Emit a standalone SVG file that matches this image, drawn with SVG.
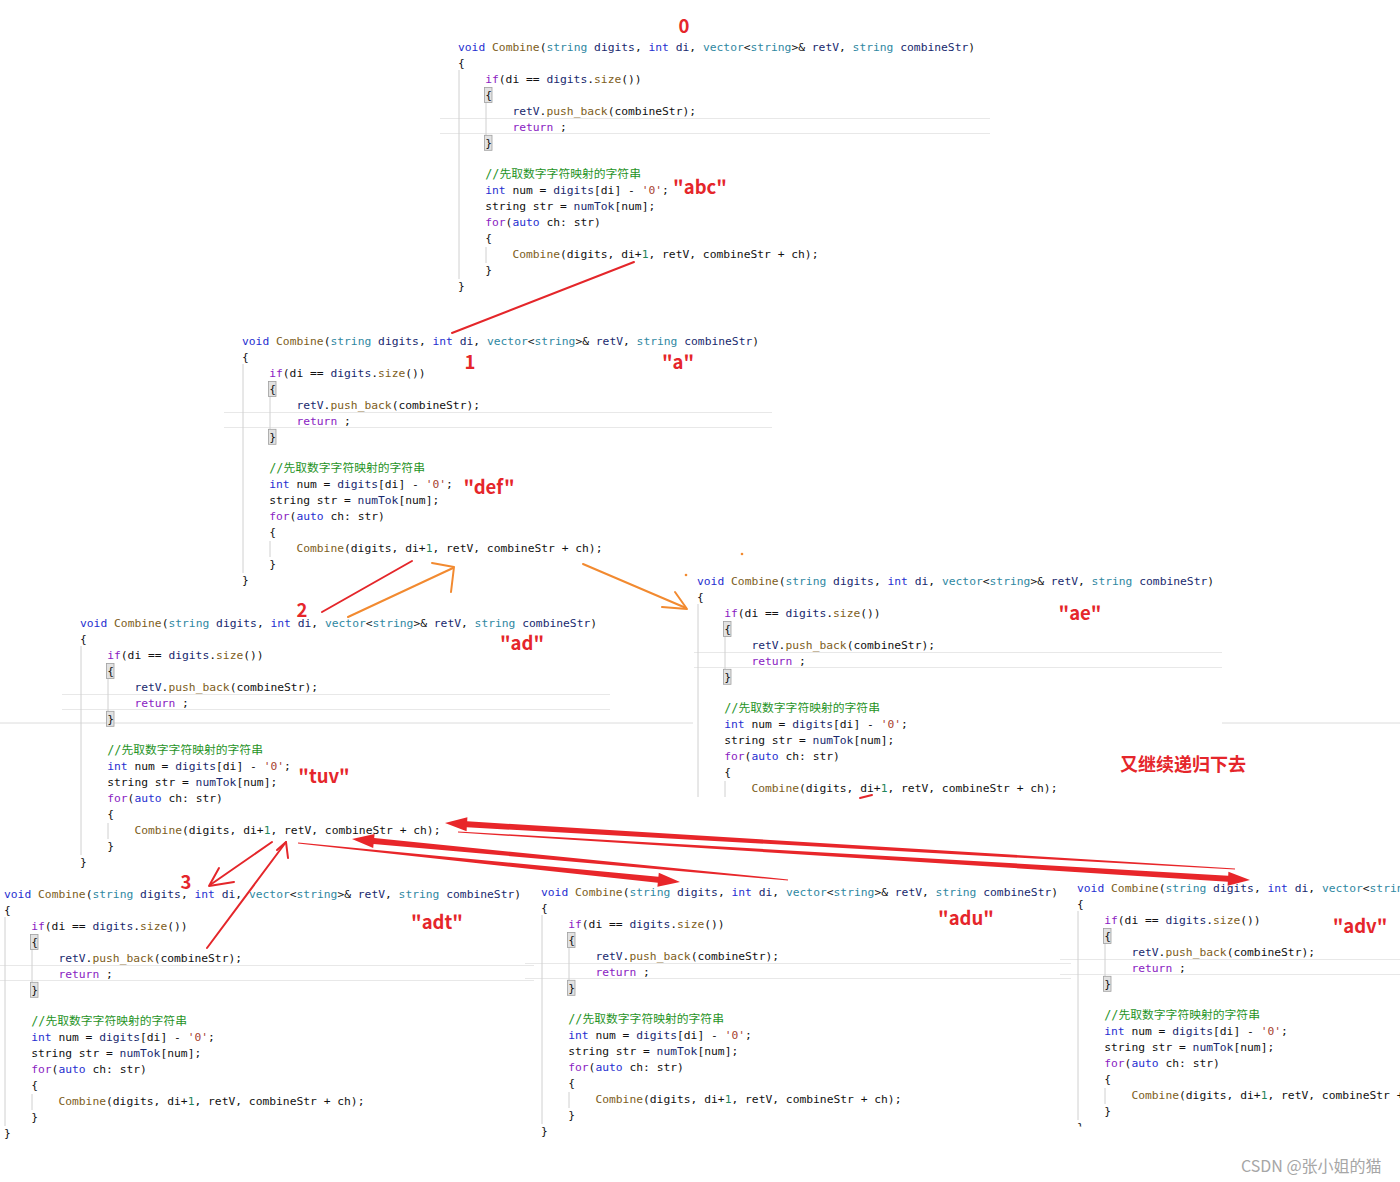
<svg xmlns="http://www.w3.org/2000/svg" width="1400" height="1182" viewBox="0 0 1400 1182">
<style>
.c{font-family:"DejaVu Sans Mono","Noto Sans CJK SC",monospace;font-size:11.3px;fill:#111111}
.k{fill:#1f2fd0}.f{fill:#7d5e22}.t{fill:#2f88a2}.v{fill:#18296e}.p{fill:#8a22c2}.g{fill:#1f931f;font-size:11.8px}.s{fill:#a84432}.n{fill:#1f855a}
.gd{stroke:#d0d0d0;stroke-width:1}
.sep{stroke:#e8e8e8;stroke-width:1}
.bb{fill:#e2e2e2;stroke:#a0a0a0;stroke-width:0.8}
.lb{font-family:"Noto Sans CJK SC","Noto Sans",sans-serif;font-weight:bold;font-size:18.5px;fill:#e5262b;text-anchor:middle}
.rl{stroke:#e4262a;stroke-width:2;fill:none;stroke-linecap:round;stroke-linejoin:round}
.ol{stroke:#f28a30;stroke-width:2;fill:none;stroke-linecap:round;stroke-linejoin:round}
.ta{fill:#e8262a}
</style>
<defs>
<clipPath id="clipB6" clipPathUnits="userSpaceOnUse"><rect x="-30" y="-30" width="400" height="268.5"/></clipPath>
</defs>
<rect width="1400" height="1182" fill="#ffffff"/>
<g id="edges-bg">
<line class="sep" x1="0" y1="723" x2="693" y2="723" style="stroke:#dcdcdc"/>
<line class="sep" x1="1222" y1="723" x2="1400" y2="723" style="stroke:#dcdcdc"/>
</g>

<g id="call-0" class="c" transform="translate(458,47)">
<line class="sep" x1="-18" y1="71.5" x2="532" y2="71.5"/><line class="sep" x1="-18" y1="86.5" x2="532" y2="86.5"/>
<line class="gd" x1="1" y1="23" x2="1" y2="232"/><line class="gd" x1="28" y1="55.5" x2="28" y2="88.3"/><line class="gd" x1="28" y1="200" x2="28" y2="216"/>
<rect class="bb" x="26.5" y="40.5" width="7.5" height="15"/><rect class="bb" x="26.5" y="88.3" width="7.5" height="15"/>
<text y="4"><tspan class="k">void</tspan> <tspan class="f">Combine</tspan>(<tspan class="t">string</tspan> <tspan class="v">digits</tspan>, <tspan class="k">int</tspan> <tspan class="v">di</tspan>, <tspan class="t">vector</tspan>&lt;<tspan class="t">string</tspan>&gt;&amp; <tspan class="v">retV</tspan>, <tspan class="t">string</tspan> <tspan class="v">combineStr</tspan>)</text>
<text y="19.9">{</text>
<text x="27.2" y="35.9"><tspan class="p">if</tspan>(di == <tspan class="v">digits</tspan>.<tspan class="f">size</tspan>())</text>
<text x="27.2" y="51.8">{</text>
<text x="54.4" y="67.7"><tspan class="v">retV</tspan>.<tspan class="f">push_back</tspan>(combineStr);</text>
<text x="54.4" y="83.7"><tspan class="p">return</tspan> ;</text>
<text x="27.2" y="99.6">}</text>
<text x="27.2" y="131.4"><tspan class="g">//先取数字字符映射的字符串</tspan></text>
<text x="27.2" y="147.4"><tspan class="k">int</tspan> num = <tspan class="v">digits</tspan>[di] - <tspan class="s">'0'</tspan>;</text>
<text x="27.2" y="163.3">string str = <tspan class="v">numTok</tspan>[num];</text>
<text x="27.2" y="179.2"><tspan class="p">for</tspan>(<tspan class="k">auto</tspan> ch: str)</text>
<text x="27.2" y="195.2">{</text>
<text x="54.4" y="211.1"><tspan class="f">Combine</tspan>(digits, di+<tspan class="n">1</tspan>, retV, combineStr + ch);</text>
<text x="27.2" y="227">}</text>
<text y="243">}</text>
</g>

<g id="call-1" class="c" transform="translate(242,341)">
<line class="sep" x1="-18" y1="71.5" x2="530" y2="71.5"/><line class="sep" x1="-18" y1="86.5" x2="530" y2="86.5"/>
<line class="gd" x1="1" y1="23" x2="1" y2="232"/><line class="gd" x1="28" y1="55.5" x2="28" y2="88.3"/><line class="gd" x1="28" y1="200" x2="28" y2="216"/>
<rect class="bb" x="26.5" y="40.5" width="7.5" height="15"/><rect class="bb" x="26.5" y="88.3" width="7.5" height="15"/>
<text y="4"><tspan class="k">void</tspan> <tspan class="f">Combine</tspan>(<tspan class="t">string</tspan> <tspan class="v">digits</tspan>, <tspan class="k">int</tspan> <tspan class="v">di</tspan>, <tspan class="t">vector</tspan>&lt;<tspan class="t">string</tspan>&gt;&amp; <tspan class="v">retV</tspan>, <tspan class="t">string</tspan> <tspan class="v">combineStr</tspan>)</text>
<text y="19.9">{</text>
<text x="27.2" y="35.9"><tspan class="p">if</tspan>(di == <tspan class="v">digits</tspan>.<tspan class="f">size</tspan>())</text>
<text x="27.2" y="51.8">{</text>
<text x="54.4" y="67.7"><tspan class="v">retV</tspan>.<tspan class="f">push_back</tspan>(combineStr);</text>
<text x="54.4" y="83.7"><tspan class="p">return</tspan> ;</text>
<text x="27.2" y="99.6">}</text>
<text x="27.2" y="131.4"><tspan class="g">//先取数字字符映射的字符串</tspan></text>
<text x="27.2" y="147.4"><tspan class="k">int</tspan> num = <tspan class="v">digits</tspan>[di] - <tspan class="s">'0'</tspan>;</text>
<text x="27.2" y="163.3">string str = <tspan class="v">numTok</tspan>[num];</text>
<text x="27.2" y="179.2"><tspan class="p">for</tspan>(<tspan class="k">auto</tspan> ch: str)</text>
<text x="27.2" y="195.2">{</text>
<text x="54.4" y="211.1"><tspan class="f">Combine</tspan>(digits, di+<tspan class="n">1</tspan>, retV, combineStr + ch);</text>
<text x="27.2" y="227">}</text>
<text y="243">}</text>
</g>

<g id="call-2" class="c" transform="translate(80,623)">
<line class="sep" x1="-18" y1="71.5" x2="530" y2="71.5"/><line class="sep" x1="-18" y1="86.5" x2="530" y2="86.5"/>
<line class="gd" x1="1" y1="23" x2="1" y2="232"/><line class="gd" x1="28" y1="55.5" x2="28" y2="88.3"/><line class="gd" x1="28" y1="200" x2="28" y2="216"/>
<rect class="bb" x="26.5" y="40.5" width="7.5" height="15"/><rect class="bb" x="26.5" y="88.3" width="7.5" height="15"/>
<text y="4"><tspan class="k">void</tspan> <tspan class="f">Combine</tspan>(<tspan class="t">string</tspan> <tspan class="v">digits</tspan>, <tspan class="k">int</tspan> <tspan class="v">di</tspan>, <tspan class="t">vector</tspan>&lt;<tspan class="t">string</tspan>&gt;&amp; <tspan class="v">retV</tspan>, <tspan class="t">string</tspan> <tspan class="v">combineStr</tspan>)</text>
<text y="19.9">{</text>
<text x="27.2" y="35.9"><tspan class="p">if</tspan>(di == <tspan class="v">digits</tspan>.<tspan class="f">size</tspan>())</text>
<text x="27.2" y="51.8">{</text>
<text x="54.4" y="67.7"><tspan class="v">retV</tspan>.<tspan class="f">push_back</tspan>(combineStr);</text>
<text x="54.4" y="83.7"><tspan class="p">return</tspan> ;</text>
<text x="27.2" y="99.6">}</text>
<text x="27.2" y="131.4"><tspan class="g">//先取数字字符映射的字符串</tspan></text>
<text x="27.2" y="147.4"><tspan class="k">int</tspan> num = <tspan class="v">digits</tspan>[di] - <tspan class="s">'0'</tspan>;</text>
<text x="27.2" y="163.3">string str = <tspan class="v">numTok</tspan>[num];</text>
<text x="27.2" y="179.2"><tspan class="p">for</tspan>(<tspan class="k">auto</tspan> ch: str)</text>
<text x="27.2" y="195.2">{</text>
<text x="54.4" y="211.1"><tspan class="f">Combine</tspan>(digits, di+<tspan class="n">1</tspan>, retV, combineStr + ch);</text>
<text x="27.2" y="227">}</text>
<text y="243">}</text>
</g>

<g id="call-3" class="c" transform="translate(697,581)">
<line class="sep" x1="-3" y1="71.5" x2="525" y2="71.5"/><line class="sep" x1="-3" y1="86.5" x2="525" y2="86.5"/>
<line class="gd" x1="1" y1="23" x2="1" y2="216"/><line class="gd" x1="28" y1="55.5" x2="28" y2="88.3"/><line class="gd" x1="28" y1="200" x2="28" y2="216"/>
<rect class="bb" x="26.5" y="40.5" width="7.5" height="15"/><rect class="bb" x="26.5" y="88.3" width="7.5" height="15"/>
<text y="4"><tspan class="k">void</tspan> <tspan class="f">Combine</tspan>(<tspan class="t">string</tspan> <tspan class="v">digits</tspan>, <tspan class="k">int</tspan> <tspan class="v">di</tspan>, <tspan class="t">vector</tspan>&lt;<tspan class="t">string</tspan>&gt;&amp; <tspan class="v">retV</tspan>, <tspan class="t">string</tspan> <tspan class="v">combineStr</tspan>)</text>
<text y="19.9">{</text>
<text x="27.2" y="35.9"><tspan class="p">if</tspan>(di == <tspan class="v">digits</tspan>.<tspan class="f">size</tspan>())</text>
<text x="27.2" y="51.8">{</text>
<text x="54.4" y="67.7"><tspan class="v">retV</tspan>.<tspan class="f">push_back</tspan>(combineStr);</text>
<text x="54.4" y="83.7"><tspan class="p">return</tspan> ;</text>
<text x="27.2" y="99.6">}</text>
<text x="27.2" y="131.4"><tspan class="g">//先取数字字符映射的字符串</tspan></text>
<text x="27.2" y="147.4"><tspan class="k">int</tspan> num = <tspan class="v">digits</tspan>[di] - <tspan class="s">'0'</tspan>;</text>
<text x="27.2" y="163.3">string str = <tspan class="v">numTok</tspan>[num];</text>
<text x="27.2" y="179.2"><tspan class="p">for</tspan>(<tspan class="k">auto</tspan> ch: str)</text>
<text x="27.2" y="195.2">{</text>
<text x="54.4" y="211.1"><tspan class="f">Combine</tspan>(digits, di+<tspan class="n">1</tspan>, retV, combineStr + ch);</text>
</g>

<g id="call-4" class="c" transform="translate(4,894)">
<line class="sep" x1="-4" y1="71.5" x2="530" y2="71.5"/><line class="sep" x1="-4" y1="86.5" x2="530" y2="86.5"/>
<line class="gd" x1="1" y1="23" x2="1" y2="232"/><line class="gd" x1="28" y1="55.5" x2="28" y2="88.3"/><line class="gd" x1="28" y1="200" x2="28" y2="216"/>
<rect class="bb" x="26.5" y="40.5" width="7.5" height="15"/><rect class="bb" x="26.5" y="88.3" width="7.5" height="15"/>
<text y="4"><tspan class="k">void</tspan> <tspan class="f">Combine</tspan>(<tspan class="t">string</tspan> <tspan class="v">digits</tspan>, <tspan class="k">int</tspan> <tspan class="v">di</tspan>, <tspan class="t">vector</tspan>&lt;<tspan class="t">string</tspan>&gt;&amp; <tspan class="v">retV</tspan>, <tspan class="t">string</tspan> <tspan class="v">combineStr</tspan>)</text>
<text y="19.9">{</text>
<text x="27.2" y="35.9"><tspan class="p">if</tspan>(di == <tspan class="v">digits</tspan>.<tspan class="f">size</tspan>())</text>
<text x="27.2" y="51.8">{</text>
<text x="54.4" y="67.7"><tspan class="v">retV</tspan>.<tspan class="f">push_back</tspan>(combineStr);</text>
<text x="54.4" y="83.7"><tspan class="p">return</tspan> ;</text>
<text x="27.2" y="99.6">}</text>
<text x="27.2" y="131.4"><tspan class="g">//先取数字字符映射的字符串</tspan></text>
<text x="27.2" y="147.4"><tspan class="k">int</tspan> num = <tspan class="v">digits</tspan>[di] - <tspan class="s">'0'</tspan>;</text>
<text x="27.2" y="163.3">string str = <tspan class="v">numTok</tspan>[num];</text>
<text x="27.2" y="179.2"><tspan class="p">for</tspan>(<tspan class="k">auto</tspan> ch: str)</text>
<text x="27.2" y="195.2">{</text>
<text x="54.4" y="211.1"><tspan class="f">Combine</tspan>(digits, di+<tspan class="n">1</tspan>, retV, combineStr + ch);</text>
<text x="27.2" y="227">}</text>
<text y="243">}</text>
</g>

<g id="call-5" class="c" transform="translate(541,892)">
<line class="sep" x1="-16" y1="71.5" x2="530" y2="71.5"/><line class="sep" x1="-16" y1="86.5" x2="530" y2="86.5"/>
<line class="gd" x1="1" y1="23" x2="1" y2="232"/><line class="gd" x1="28" y1="55.5" x2="28" y2="88.3"/><line class="gd" x1="28" y1="200" x2="28" y2="216"/>
<rect class="bb" x="26.5" y="40.5" width="7.5" height="15"/><rect class="bb" x="26.5" y="88.3" width="7.5" height="15"/>
<text y="4"><tspan class="k">void</tspan> <tspan class="f">Combine</tspan>(<tspan class="t">string</tspan> <tspan class="v">digits</tspan>, <tspan class="k">int</tspan> <tspan class="v">di</tspan>, <tspan class="t">vector</tspan>&lt;<tspan class="t">string</tspan>&gt;&amp; <tspan class="v">retV</tspan>, <tspan class="t">string</tspan> <tspan class="v">combineStr</tspan>)</text>
<text y="19.9">{</text>
<text x="27.2" y="35.9"><tspan class="p">if</tspan>(di == <tspan class="v">digits</tspan>.<tspan class="f">size</tspan>())</text>
<text x="27.2" y="51.8">{</text>
<text x="54.4" y="67.7"><tspan class="v">retV</tspan>.<tspan class="f">push_back</tspan>(combineStr);</text>
<text x="54.4" y="83.7"><tspan class="p">return</tspan> ;</text>
<text x="27.2" y="99.6">}</text>
<text x="27.2" y="131.4"><tspan class="g">//先取数字字符映射的字符串</tspan></text>
<text x="27.2" y="147.4"><tspan class="k">int</tspan> num = <tspan class="v">digits</tspan>[di] - <tspan class="s">'0'</tspan>;</text>
<text x="27.2" y="163.3">string str = <tspan class="v">numTok</tspan>[num];</text>
<text x="27.2" y="179.2"><tspan class="p">for</tspan>(<tspan class="k">auto</tspan> ch: str)</text>
<text x="27.2" y="195.2">{</text>
<text x="54.4" y="211.1"><tspan class="f">Combine</tspan>(digits, di+<tspan class="n">1</tspan>, retV, combineStr + ch);</text>
<text x="27.2" y="227">}</text>
<text y="243">}</text>
</g>

<g id="call-6" class="c" transform="translate(1077,888)" clip-path="url(#clipB6)">
<line class="sep" x1="-17" y1="71.5" x2="330" y2="71.5"/><line class="sep" x1="-17" y1="86.5" x2="330" y2="86.5"/>
<line class="gd" x1="1" y1="23" x2="1" y2="232"/><line class="gd" x1="28" y1="55.5" x2="28" y2="88.3"/><line class="gd" x1="28" y1="200" x2="28" y2="216"/>
<rect class="bb" x="26.5" y="40.5" width="7.5" height="15"/><rect class="bb" x="26.5" y="88.3" width="7.5" height="15"/>
<text y="4"><tspan class="k">void</tspan> <tspan class="f">Combine</tspan>(<tspan class="t">string</tspan> <tspan class="v">digits</tspan>, <tspan class="k">int</tspan> <tspan class="v">di</tspan>, <tspan class="t">vector</tspan>&lt;<tspan class="t">string</tspan>&gt;&amp; <tspan class="v">retV</tspan>, <tspan class="t">string</tspan> <tspan class="v">combineStr</tspan>)</text>
<text y="19.9">{</text>
<text x="27.2" y="35.9"><tspan class="p">if</tspan>(di == <tspan class="v">digits</tspan>.<tspan class="f">size</tspan>())</text>
<text x="27.2" y="51.8">{</text>
<text x="54.4" y="67.7"><tspan class="v">retV</tspan>.<tspan class="f">push_back</tspan>(combineStr);</text>
<text x="54.4" y="83.7"><tspan class="p">return</tspan> ;</text>
<text x="27.2" y="99.6">}</text>
<text x="27.2" y="131.4"><tspan class="g">//先取数字字符映射的字符串</tspan></text>
<text x="27.2" y="147.4"><tspan class="k">int</tspan> num = <tspan class="v">digits</tspan>[di] - <tspan class="s">'0'</tspan>;</text>
<text x="27.2" y="163.3">string str = <tspan class="v">numTok</tspan>[num];</text>
<text x="27.2" y="179.2"><tspan class="p">for</tspan>(<tspan class="k">auto</tspan> ch: str)</text>
<text x="27.2" y="195.2">{</text>
<text x="54.4" y="211.1"><tspan class="f">Combine</tspan>(digits, di+<tspan class="n">1</tspan>, retV, combineStr + ch);</text>
<text x="27.2" y="227">}</text>
<text y="243">}</text>
</g>

<g id="connectors">
<line class="rl" x1="634" y1="262" x2="452" y2="333"/>
<line class="rl" x1="412" y1="561" x2="322" y2="612"/>
<line class="ol" x1="348" y1="617" x2="453" y2="568"/>
<polyline class="ol" points="432,563 454,567 451,592"/>
<line class="ol" x1="583" y1="564" x2="686" y2="608"/>
<polyline class="ol" points="675,592 687,609 662,607"/>
<line class="rl" x1="272" y1="842" x2="210" y2="885"/>
<polyline class="rl" points="219,868 209,886 234,882"/>
<line class="rl" x1="207" y1="948" x2="286" y2="842"/>
<polyline class="rl" points="277,850 286,842 288,858"/>
<polygon class="ta" points="297.9,843.6 657.8,882.8 657.4,886.7 680,882 658.8,872.8 658.4,876.8 298.1,842.4"/>
<polygon class="ta" points="788.06,879.4 374.2,838.1 374.6,834.1 352,839 373.2,848.1 373.6,844.1 787.94,880.6"/>
<polygon class="ta" points="457.96,832.6 1227.8,881.7 1227.6,885.7 1250,880 1228.4,871.7 1228.2,875.7 458.04,831.4"/>
<polygon class="ta" points="1235.03,868.4 467.2,821.3 467.4,817.3 445,823 466.6,831.3 466.8,827.3 1234.97,869.6"/>
<line class="rl" x1="860" y1="798" x2="872" y2="795"/>
<circle cx="742" cy="554" r="1.3" fill="#f28a30"/>
<circle cx="686" cy="575" r="1.3" fill="#f28a30"/>
</g>

<g id="annotations">
<text class="lb" x="684" y="33">0</text>
<text class="lb" x="700" y="194">"abc"</text>
<text class="lb" x="470" y="369">1</text>
<text class="lb" x="678" y="369">"a"</text>
<text class="lb" x="489" y="494">"def"</text>
<text class="lb" x="302" y="617">2</text>
<text class="lb" x="522" y="650">"ad"</text>
<text class="lb" x="324" y="783">"tuv"</text>
<text class="lb" x="1080" y="620">"ae"</text>
<text class="lb" x="1120" y="771" style="text-anchor:start;font-size:18px">又继续递归下去</text>
<text class="lb" x="186" y="889">3</text>
<text class="lb" x="437" y="929">"adt"</text>
<text class="lb" x="966" y="925">"adu"</text>
<text class="lb" x="1360" y="933">"adv"</text>
<text x="1241" y="1172" style="font-family:'Noto Sans CJK SC','Noto Sans',sans-serif;font-size:16px;fill:#a6a6a6">CSDN @张小姐的猫</text>
</g>
</svg>
